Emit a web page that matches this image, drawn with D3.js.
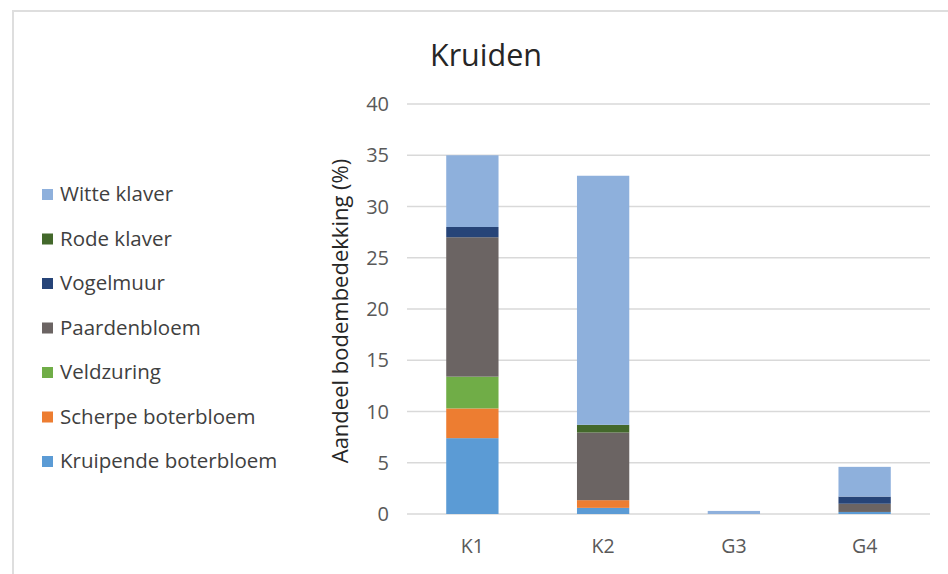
<!DOCTYPE html>
<html>
<head>
<meta charset="utf-8">
<script src="https://cdn.jsdelivr.net/npm/d3@7"></script>
<style>
  html, body { margin: 0; padding: 0; background: #fff; }
  svg { display: block; font-family: "Open Sans", Lato, sans-serif; }
</style>
</head>
<body>
<svg id="chart" width="948" height="574"></svg>
<script>
const categories = ["K1", "K2", "G3", "G4"];
const seriesNames = ["Kruipende boterbloem", "Scherpe boterbloem", "Veldzuring", "Paardenbloem", "Vogelmuur", "Rode klaver", "Witte klaver"];
const kruipendeBoterbloem = [7.4, 0.6, 0, 0.2];
const scherpeBoterbloem   = [2.9, 0.75, 0, 0];
const veldzuring          = [3.1, 0, 0, 0];
const paardenbloem        = [13.6, 6.6, 0, 0.8];
const vogelmuur           = [1.0, 0, 0, 0.7];
const rodeKlaver          = [0, 0.75, 0, 0];
const witteKlaver         = [7.0, 24.3, 0.3, 2.9];
const yTicks = [0, 5, 10, 15, 20, 25, 30, 35, 40];
const colors = ["#5b9bd5", "#ed7d31", "#70ad47", "#6b6463", "#264478", "#43682b", "#8eb0dc"];

const seriesValues = [kruipendeBoterbloem, scherpeBoterbloem, veldzuring, paardenbloem, vogelmuur, rodeKlaver, witteKlaver];
const table = categories.map((c, i) => {
  const row = { cat: c };
  seriesNames.forEach((s, j) => row[s] = seriesValues[j][i]);
  return row;
});

const svg = d3.select("#chart");

// frame
svg.append("rect").attr("x", 13).attr("y", 11).attr("width", 960).attr("height", 600)
  .attr("fill", "none").attr("stroke", "#dedede").attr("stroke-width", 2);

const x = d3.scaleBand().domain(categories).range([407, 930]).paddingInner(0.6).paddingOuter(0.3);
const y = d3.scaleLinear().domain([0, 40]).range([514, 104]);

// gridlines
svg.append("g").selectAll("line").data(yTicks).join("line")
  .attr("x1", 407).attr("x2", 930)
  .attr("y1", d => y(d)).attr("y2", d => y(d))
  .attr("stroke", "#d9d9d9").attr("stroke-width", 1.3);

// y tick labels
svg.append("g").selectAll("text").data(yTicks).join("text")
  .attr("x", 389).attr("y", d => y(d)).attr("dy", "0.36em")
  .attr("text-anchor", "end").attr("font-size", 20).attr("fill", "#595959")
  .text(d => d);

// stacked bars
const stack = d3.stack().keys(seriesNames)(table);
svg.append("g").selectAll("g").data(stack).join("g")
  .attr("fill", (d, i) => colors[i])
  .selectAll("rect").data(d => d).join("rect")
  .attr("x", d => x(d.data.cat))
  .attr("width", x.bandwidth())
  .attr("y", d => y(d[1]))
  .attr("height", d => Math.max(0, y(d[0]) - y(d[1])));

// x labels
svg.append("g").selectAll("text").data(categories).join("text")
  .attr("x", d => x(d) + x.bandwidth() / 2).attr("y", 553)
  .attr("text-anchor", "middle").attr("font-size", 19.5).attr("fill", "#595959")
  .text(d => d);

// y axis title
svg.append("text")
  .attr("transform", "translate(348,311) rotate(-90)")
  .attr("text-anchor", "middle").attr("font-size", 22).attr("fill", "#262626")
  .text("Aandeel bodembedekking (%)");

// title
svg.append("text").attr("x", 486).attr("y", 66)
  .attr("text-anchor", "middle").attr("font-size", 30.5).attr("fill", "#262626")
  .text("Kruiden");

// legend
const legendOrder = seriesNames.map((s, i) => ({ s, c: colors[i] })).reverse();
const lg = svg.append("g").selectAll("g").data(legendOrder).join("g")
  .attr("transform", (d, i) => `translate(42,${194 + i * 44.5})`);
lg.append("rect").attr("x", 0).attr("y", -5).attr("width", 11).attr("height", 11).attr("fill", d => d.c);
lg.append("text").attr("x", 18).attr("y", 0).attr("dy", "0.36em")
  .attr("font-size", 20.5).attr("fill", "#404040").text(d => d.s);
</script>
</body>
</html>
